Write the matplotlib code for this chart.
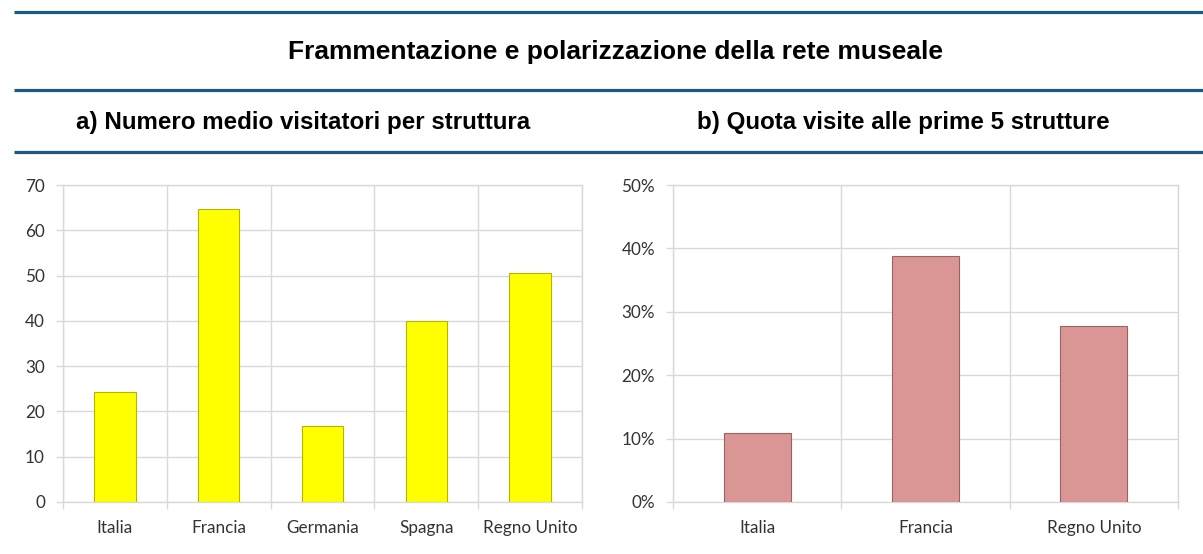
import matplotlib
matplotlib.use('Agg')
import matplotlib.pyplot as plt
from matplotlib.lines import Line2D
from matplotlib.ticker import FuncFormatter

# dati: visitatori medi per struttura (migliaia) e quota visite prime 5 strutture
paesi_a = ['Italia', 'Francia', 'Germania', 'Spagna', 'Regno Unito']
visitatori_medi = [24.3, 64.6, 16.8, 39.9, 50.5]

paesi_b = ['Italia', 'Francia', 'Regno Unito']
quota_top5 = [10.9, 38.8, 27.7]

W, H = 1203, 554
fig = plt.figure(figsize=(W / 100, H / 100), dpi=100)
fig.patch.set_facecolor('white')

blu = '#155A80'
grigio = '#D9D9D9'

# linee orizzontali di separazione
for y in [12, 90, 152]:
    fig.add_artist(Line2D([14 / W, 1], [1 - y / H, 1 - y / H], color=blu, lw=2.3,
                          transform=fig.transFigure, solid_capstyle='butt'))

titolo_font = {'family': 'Liberation Sans', 'weight': 'bold', 'color': 'black'}
fig.text(615 / W, 1 - 52 / H, 'Frammentazione e polarizzazione della rete museale',
         ha='center', va='center', fontsize=19, **titolo_font)
fig.text(303 / W, 1 - 123 / H, 'a) Numero medio visitatori per struttura',
         ha='center', va='center', fontsize=17.4, **titolo_font)
fig.text(903 / W, 1 - 123 / H, 'b) Quota visite alle prime 5 strutture',
         ha='center', va='center', fontsize=17.4, **titolo_font)


def grafico(ax, nomi, valori, colore, bordo, ymax, passo, fmt=None):
    x = range(len(nomi))
    ax.bar(x, valori, width=0.4, color=colore, edgecolor=bordo, linewidth=0.8, zorder=3)
    ax.set_xlim(-0.5, len(nomi) - 0.5)
    ax.set_ylim(0, ymax)
    ax.set_yticks(range(0, ymax + 1, passo))
    ax.set_xticks(list(x))
    ax.set_xticklabels(nomi)
    ax.set_xticks([i - 0.5 for i in range(len(nomi) + 1)], minor=True)
    if fmt:
        ax.yaxis.set_major_formatter(FuncFormatter(fmt))
    ax.grid(axis='y', which='major', color=grigio, lw=1, zorder=0)
    ax.grid(axis='x', which='minor', color=grigio, lw=1, zorder=0)
    for s in ax.spines.values():
        s.set_color(grigio)
        s.set_linewidth(1)
    ax.tick_params(axis='x', which='major', length=0, pad=13)
    ax.tick_params(axis='x', which='minor', length=5, color=grigio, width=1)
    ax.tick_params(axis='y', length=5, color=grigio, width=1, pad=8)
    for lab in ax.get_xticklabels() + ax.get_yticklabels():
        lab.set_family('Lato')
        lab.set_fontsize(12.3)
        lab.set_color('#333333')


ax1 = fig.add_axes([63 / W, 52 / H, 519 / W, 317 / H])
grafico(ax1, paesi_a, visitatori_medi, '#FFFF00', '#B5B500', 70, 10)

ax2 = fig.add_axes([673 / W, 52 / H, 505 / W, 317 / H])
grafico(ax2, paesi_b, quota_top5, '#D99694', '#A0605E', 50, 10,
        fmt=lambda v, p: f'{v:.0f}%')

fig.savefig('out.png', dpi=100)
